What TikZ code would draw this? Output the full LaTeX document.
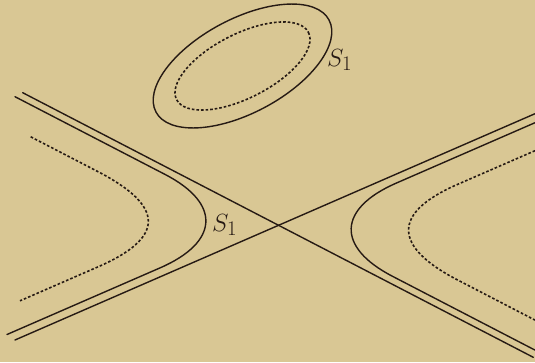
\documentclass[tikz,border=0pt]{standalone}
\usepackage{tikz}
\usetikzlibrary{calc}
\definecolor{paper}{RGB}{217,199,148}
\definecolor{ink}{RGB}{38,26,20}
\tikzset{
  curve/.style={draw=ink, line width=1.4pt, line cap=round},
  dotcurve/.style={curve, line width=1.6pt, line cap=butt, dash pattern=on 2.6pt off 2pt},
  lbl/.style={anchor=base west, inner sep=0pt, text=ink, font=\fontsize{28}{30}\selectfont}
}
\begin{document}
\begin{tikzpicture}[x=1pt, y=-1pt]
  \fill[paper] (0,0) rectangle (535,362);
  \useasboundingbox (0,0) rectangle (535,362);
  % asymptotes
  \coordinate (la1) at (22.7,92.7);
  \coordinate (la2) at (533.3,357.3);
  \coordinate (lb1) at (15,340);
  \coordinate (lb2) at (535,113.7);
  \draw[curve] (la1) -- (la2);
  \draw[curve] (lb1) -- (lb2);
  % left branches
  \coordinate (ls1) at (15,96.7);
  \coordinate (ls2) at (7,334.5);
  \coordinate (ld1) at (30.7,136.8);
  \coordinate (ld2) at (20,300.8);
  \draw[curve] (ls1) -- (165,174.4) .. controls (221.8,203.8) and (218.7,242.4) .. (160,267.9) -- (ls2);
  \draw[dotcurve] (ld1) -- (97.9,171.6) .. controls (164.1,205.9) and (166.2,237.2) .. (97.9,266.9) -- (ld2);
  % right branches
  \coordinate (rs1) at (535,122.7);
  \coordinate (rs2) at (535,350.1);
  \coordinate (rd1) at (535,150.7);
  \coordinate (rd2) at (535,320.1);
  \draw[curve] (rs1) -- (396.5,183.0) .. controls (337.8,208.5) and (335.7,246.9) .. (392.5,276.3) -- (rs2);
  \draw[dotcurve] (rd1) -- (457.3,184.5) .. controls (391.3,213.2) and (393.4,246.7) .. (457.3,279.8) -- (rd2);
  % closed oval
  \coordinate (oc) at (242.5,66);
  \draw[curve, rotate around={28:(oc)}] (oc) ellipse [x radius=98, y radius=47];
  \draw[dotcurve, rotate around={27:(oc)}] (oc) ellipse [x radius=74, y radius=32];
  % labels
  \node[lbl] (s1top) at (327,66) {$S_1$};
  \node[lbl] (s1mid) at (212,231) {$S_1$};
\end{tikzpicture}
\end{document}
